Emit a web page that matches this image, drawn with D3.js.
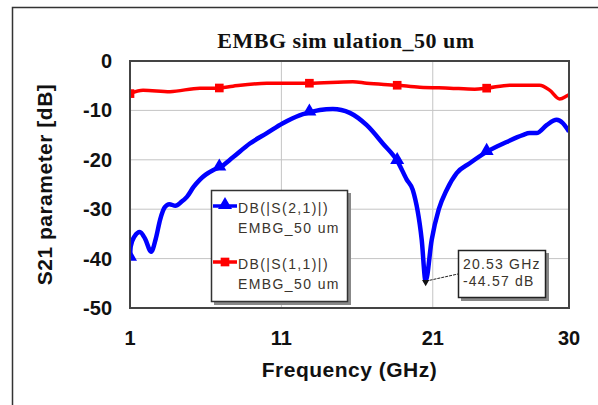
<!DOCTYPE html>
<html>
<head>
<meta charset="utf-8">
<script src="https://cdn.jsdelivr.net/npm/d3@7"></script>
<style>
  body { margin: 0; background: #fff; }
  svg { display: block; }
</style>
</head>
<body>
<div id="chart"></div>
<script>
// S21 (blue) and S11 (red), frequency in GHz, value in dB
var s21Freq = [1.0, 1.05, 1.3, 1.65, 2.0, 2.4, 2.7, 3.0, 3.3, 3.6, 4.0, 4.4, 4.76, 5.2, 5.62, 6.0, 6.48, 6.94,
               7.8, 8.92, 10.04, 11.1, 12.2, 12.88, 13.54, 14.4, 15.52, 16.64, 17.7, 18.69, 19.28, 19.68,
               20.27, 20.53, 20.93, 21.4, 21.92, 22.58, 23.44, 24.56, 25.88, 26.94, 27.4, 27.86, 28.52,
               29.18, 29.6, 30.0];
var s21Db = [-39.8, -37.5, -35.5, -34.6, -36.0, -38.6, -36.0, -32.0, -29.6, -29.0, -29.3, -28.5, -27.5, -25.5,
             -24.0, -23.0, -22.1, -21.5, -19.5, -16.7, -14.6, -12.6, -11.0, -10.4, -9.9, -9.7, -10.5, -13.0,
             -16.7, -20.4, -24.0, -26.1, -36.2, -44.57, -36.2, -30.0, -26.1, -22.7, -20.7, -18.4, -16.4, -15.0,
             -14.6, -14.6, -13.0, -11.9, -12.6, -14.3];

var s11Freq = [1.0, 1.86, 3.64, 5.62, 6.81, 7.8, 10.04, 12.22, 12.81, 15.72, 16.64, 18.62, 20.14, 22.12,
               23.77, 24.56, 26.08, 28.06, 28.72, 29.38, 29.84, 30.0];
var s11Db = [-6.6, -5.9, -6.2, -5.5, -5.5, -5.1, -4.5, -4.5, -4.5, -4.2, -4.5, -4.9, -5.3, -5.5,
             -5.7, -5.5, -4.9, -4.9, -5.9, -7.7, -7.1, -6.8];

var markerFreqs = [1.0, 6.9, 12.85, 18.65, 24.56];

var xTicks = [1, 11, 21, 30];
var yTicks = [0, -10, -20, -30, -40, -50];

var legendLabels = [["DB(|S(2,1)|)", "EMBG_50 um"], ["DB(|S(1,1)|)", "EMBG_50 um"]];
var markerNote = ["20.53 GHz", "-44.57 dB"];
var noteFreq = 20.53, noteDb = -44.57;

var width = 598, height = 405;
var plot = {left: 130, top: 61, right: 569, bottom: 308};

var svg = d3.select("#chart").append("svg")
    .attr("width", width)
    .attr("height", height);

svg.append("rect")
    .attr("x", 12.5).attr("y", 7.5)
    .attr("width", 620).attr("height", 420)
    .attr("fill", "#fff")
    .attr("stroke", "#333").attr("stroke-width", 1.5);

var x = d3.scaleLinear().domain([1, 30]).range([plot.left, plot.right]);
var y = d3.scaleLinear().domain([-50, 0]).range([plot.bottom, plot.top]);

// grid
svg.append("g").selectAll("line")
    .data(yTicks.slice(1, -1))
    .enter().append("line")
    .attr("x1", plot.left).attr("x2", plot.right)
    .attr("y1", function (d) { return y(d); })
    .attr("y2", function (d) { return y(d); })
    .attr("stroke", "#c4c4c4").attr("stroke-width", 1);

svg.append("g").selectAll("line")
    .data(xTicks.slice(1, -1))
    .enter().append("line")
    .attr("y1", plot.top).attr("y2", plot.bottom)
    .attr("x1", function (d) { return x(d); })
    .attr("x2", function (d) { return x(d); })
    .attr("stroke", "#c4c4c4").attr("stroke-width", 1);

// tick labels
svg.append("g").selectAll("text")
    .data(xTicks)
    .enter().append("text")
    .attr("x", function (d) { return x(d); })
    .attr("y", 345)
    .attr("text-anchor", "middle")
    .style("font", "bold 20px Arial, 'Liberation Sans', sans-serif")
    .attr("fill", "#111")
    .text(function (d) { return d; });

svg.append("g").selectAll("text")
    .data(yTicks)
    .enter().append("text")
    .attr("x", 112)
    .attr("y", function (d) { return y(d) + 7; })
    .attr("text-anchor", "end")
    .style("font", "bold 20px Arial, 'Liberation Sans', sans-serif")
    .attr("fill", "#111")
    .text(function (d) { return d; });

// titles
svg.append("text")
    .attr("x", 346).attr("y", 48)
    .attr("text-anchor", "middle")
    .style("font", "bold 22px 'Times New Roman', 'Liberation Serif', serif")
    .style("letter-spacing", "0.5px")
    .attr("fill", "#111")
    .text("EMBG sim ulation_50 um");

svg.append("text")
    .attr("x", (plot.left + plot.right) / 2).attr("y", 377)
    .attr("text-anchor", "middle")
    .style("font", "bold 21px Arial, 'Liberation Sans', sans-serif")
    .style("letter-spacing", "0.5px")
    .attr("fill", "#111")
    .text("Frequency (GHz)");

svg.append("text")
    .attr("transform", "translate(52," + (plot.top + plot.bottom) / 2 + ") rotate(-90)")
    .attr("text-anchor", "middle")
    .style("font", "bold 21px Arial, 'Liberation Sans', sans-serif")
    .style("letter-spacing", "0.5px")
    .attr("fill", "#111")
    .text("S21 parameter [dB]");

// curves
var clip = svg.append("clipPath").attr("id", "clip")
  .append("rect")
    .attr("x", plot.left).attr("y", plot.top)
    .attr("width", plot.right - plot.left).attr("height", plot.bottom - plot.top);

var line = d3.line()
    .x(function (d) { return x(d[0]); })
    .y(function (d) { return y(d[1]); })
    .curve(d3.curveMonotoneX);

var s21 = d3.zip(s21Freq, s21Db);
var s11 = d3.zip(s11Freq, s11Db);

function valueAt(freqs, vals, f) {
  var i = d3.bisectLeft(freqs, f);
  if (i <= 0) return vals[0];
  if (i >= freqs.length) return vals[vals.length - 1];
  var t = (f - freqs[i - 1]) / (freqs[i] - freqs[i - 1]);
  return vals[i - 1] + t * (vals[i] - vals[i - 1]);
}

var curves = svg.append("g").attr("clip-path", "url(#clip)");

curves.append("path")
    .datum(s11)
    .attr("d", line)
    .attr("fill", "none")
    .attr("stroke", "#ff0000")
    .attr("stroke-width", 3.5)
    .attr("stroke-linejoin", "round");

curves.append("path")
    .datum(s21)
    .attr("d", line)
    .attr("fill", "none")
    .attr("stroke", "#0000ff")
    .attr("stroke-width", 4.5)
    .attr("stroke-linejoin", "round");

var tri = d3.symbol().type(d3.symbolTriangle).size(85);
var sq = d3.symbol().type(d3.symbolSquare).size(75);

curves.append("g").selectAll("path")
    .data(markerFreqs)
    .enter().append("path")
    .attr("d", sq)
    .attr("transform", function (d) { return "translate(" + x(d) + "," + y(valueAt(s11Freq, s11Db, d)) + ")"; })
    .attr("fill", "#ff0000");

curves.append("g").selectAll("path")
    .data(markerFreqs)
    .enter().append("path")
    .attr("d", tri)
    .attr("transform", function (d) { return "translate(" + x(d) + "," + (y(valueAt(s21Freq, s21Db, d)) - 1) + ")"; })
    .attr("fill", "#0000ff");

// plot border
svg.append("rect")
    .attr("x", plot.left).attr("y", plot.top)
    .attr("width", plot.right - plot.left).attr("height", plot.bottom - plot.top)
    .attr("fill", "none")
    .attr("stroke", "#444").attr("stroke-width", 2);

// legend
var lg = svg.append("g");
lg.append("rect")
    .attr("x", 214).attr("y", 193).attr("width", 137).attr("height", 112)
    .attr("fill", "#888");
lg.append("rect")
    .attr("x", 211.5).attr("y", 190.5).attr("width", 136).attr("height", 111)
    .attr("fill", "#fff").attr("stroke", "#333").attr("stroke-width", 1.5);

var legendColors = ["#0000ff", "#ff0000"];
var legendSyms = [tri, sq];
legendLabels.forEach(function (lab, i) {
  var yy = 206 + i * 56;
  lg.append("line")
      .attr("x1", 213).attr("x2", 237)
      .attr("y1", yy).attr("y2", yy)
      .attr("stroke", legendColors[i]).attr("stroke-width", 3.5);
  lg.append("path")
      .attr("d", legendSyms[i])
      .attr("transform", "translate(225," + (yy - (i === 0 ? 1 : 0)) + ")")
      .attr("fill", legendColors[i]);
  lab.forEach(function (t, j) {
    lg.append("text")
        .attr("x", 238).attr("y", yy + 7 + j * 20)
        .style("font", "14px Arial, 'Liberation Sans', sans-serif")
        .style("letter-spacing", "1.4px")
        .attr("fill", "#3a342c")
        .text(t);
  });
});

// marker annotation
var nx = x(noteFreq), ny = y(noteDb);
svg.append("line")
    .attr("x1", nx).attr("y1", ny)
    .attr("x2", 458).attr("y2", 274)
    .attr("stroke", "#222").attr("stroke-width", 1)
    .attr("stroke-dasharray", "3,1");
svg.append("path")
    .attr("d", d3.symbol().type(d3.symbolTriangle).size(22))
    .attr("transform", "translate(" + nx + "," + (ny + 1) + ") rotate(180)")
    .attr("fill", "#111");

var ng = svg.append("g");
ng.append("rect")
    .attr("x", 461).attr("y", 253).attr("width", 88).attr("height", 48)
    .attr("fill", "#888");
ng.append("rect")
    .attr("x", 458.5).attr("y", 250.5).attr("width", 87).attr("height", 47)
    .attr("fill", "#fff").attr("stroke", "#222").attr("stroke-width", 1.5);
markerNote.forEach(function (t, j) {
  ng.append("text")
      .attr("x", 463).attr("y", 269 + j * 17)
      .style("font", "14px Arial, 'Liberation Sans', sans-serif")
      .style("letter-spacing", "1.2px")
      .attr("fill", "#3a342c")
      .text(t);
});
</script>
</body>
</html>
